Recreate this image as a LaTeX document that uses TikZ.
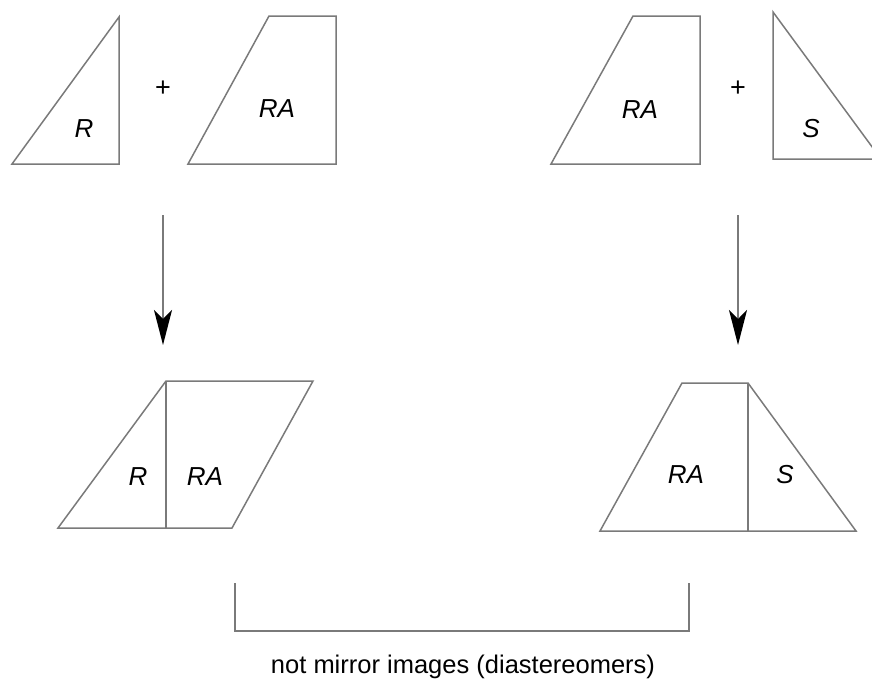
\documentclass[tikz,border=0pt]{standalone}
\usepackage{fontspec}
\setmainfont{Liberation Sans}
\usetikzlibrary{arrows.meta}
\definecolor{edge}{HTML}{7A7A7A}
\tikzset{
  piece/.style={draw=edge, line width=1.5pt, line join=miter},
  lbl/.style={inner sep=0pt, anchor=base, font=\fontsize{26}{30}\selectfont\itshape},
  plus/.style={inner sep=0pt, font=\fontsize{27}{30}\selectfont},
  react/.style={draw=edge, line width=2pt, -{Stealth[length=35pt, width=18pt, inset=9pt, color=black]}},
  bracket/.style={draw=edge, line width=1.5pt},
  caption/.style={inner sep=0pt, anchor=base, font=\fontsize{25.5}{30}\selectfont}
}
\begin{document}
\begin{tikzpicture}[x=1pt, y=-1pt]
  \useasboundingbox (0,0) rectangle (872,688);
  \clip (0,0) rectangle (872,688);

  % reactants, left: R piece + RA piece
  \draw[piece] (12,164) -- (119,17) -- (119,164) -- cycle;
  \node[lbl] (r1) at (84,137) {R};
  \node[plus] (p1) at (163,89) {+};
  \draw[piece] (269,16) -- (336,16) -- (336,164) -- (188,164) -- cycle;
  \node[lbl] (ra1) at (277,117) {RA};

  % reactants, right: RA piece + S piece
  \draw[piece] (633,16) -- (700,16) -- (700,164) -- (551,164) -- cycle;
  \node[lbl] (ra2) at (640,118) {RA};
  \node[plus] (p2) at (738,89) {+};
  \draw[piece] (773,12) -- (881,159) -- (773,159) -- cycle;
  \node[lbl] (s1) at (811,137) {S};

  % reaction arrows
  \coordinate (a1s) at (163,215);
  \coordinate (a1e) at (163,345);
  \coordinate (a2s) at (738,215);
  \coordinate (a2e) at (738,345);
  \draw[react] (a1s) -- (a1e);
  \draw[react] (a2s) -- (a2e);

  % product, left: R + RA joined
  \draw[piece] (166,381) -- (313,381) -- (232,528) -- (58,528) -- cycle;
  \draw[piece] (166,381) -- (166,528);
  \node[lbl] (r2) at (138,485) {R};
  \node[lbl] (ra3) at (205,485) {RA};

  % product, right: RA + S joined
  \draw[piece] (682,383) -- (748,383) -- (856,531) -- (600,531) -- cycle;
  \draw[piece] (748,383) -- (748,531);
  \node[lbl] (ra4) at (686,483) {RA};
  \node[lbl] (s2) at (785,483) {S};

  % bracket relating the two products
  \coordinate (bl) at (235,583);
  \coordinate (br) at (689,583);
  \draw[bracket] (bl) -- (235,631) -- (689,631) -- (br);
  \node[caption] (cap) at (463,673) {not mirror images (diastereomers)};
\end{tikzpicture}
\end{document}
